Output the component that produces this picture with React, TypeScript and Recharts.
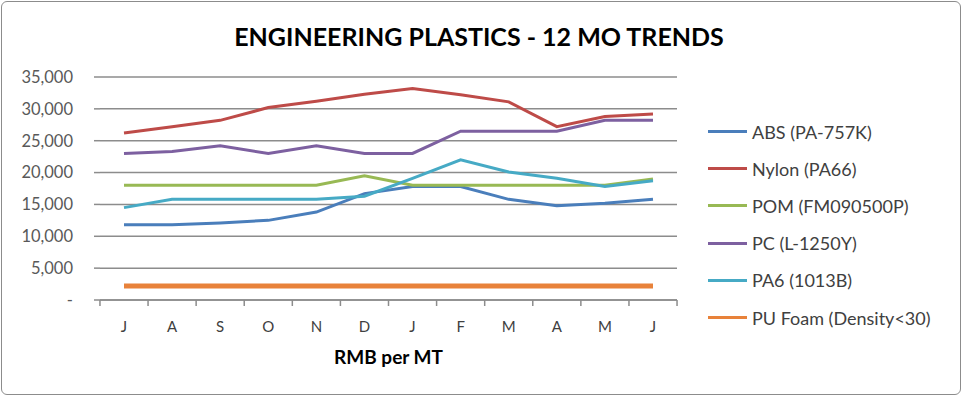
import { LineChart, Line, XAxis, YAxis, CartesianGrid, Legend } from "recharts";

const months = ["J", "A", "S", "O", "N", "D", "J", "F", "M", "A", "M", "J"];

const abs = [11800, 11800, 12100, 12500, 13800, 16700, 17800, 17800, 15800, 14800, 15200, 15800];
const nylon = [26200, 27200, 28200, 30200, 31200, 32300, 33200, 32200, 31100, 27200, 28800, 29200];
const pom = [18000, 18000, 18000, 18000, 18000, 19500, 18000, 18000, 18000, 18000, 18000, 19000];
const pc = [23000, 23300, 24200, 23000, 24200, 23000, 23000, 26500, 26500, 26500, 28200, 28200];
const pa6 = [14500, 15800, 15800, 15800, 15800, 16300, 19100, 22000, 20100, 19100, 17800, 18700];
const puFoam = [2200, 2200, 2200, 2200, 2200, 2200, 2200, 2200, 2200, 2200, 2200, 2200];

const yTicks = [0, 5000, 10000, 15000, 20000, 25000, 30000, 35000];

const series = [
  { key: "abs", name: "ABS (PA-757K)", color: "#4a7ebb", values: abs, width: 3 },
  { key: "nylon", name: "Nylon (PA66)", color: "#be4b48", values: nylon, width: 3 },
  { key: "pom", name: "POM (FM090500P)", color: "#98b954", values: pom, width: 3 },
  { key: "pc", name: "PC (L-1250Y)", color: "#7d60a0", values: pc, width: 3 },
  { key: "pa6", name: "PA6 (1013B)", color: "#46aac5", values: pa6, width: 3 },
  { key: "pu", name: "PU Foam (Density<30)", color: "#e8823a", values: puFoam, width: 5 },
];

const data = months.map((m, i) => {
  const row: any = { month: m };
  series.forEach((s) => (row[s.key] = s.values[i]));
  return row;
});

const font = "Lato, 'Open Sans', sans-serif";
const gridColor = "#8c8c8c";

// month label centred in its slot, tick marks on the slot boundaries (Excel style)
const MonthTick = (props: any) => {
  const { x, y, width, payload, index, visibleTicksCount } = props;
  const half = width / visibleTicksCount / 2;
  const last = index === visibleTicksCount - 1;
  return (
    <g>
      <line x1={x - half} x2={x - half} y1={y} y2={y + 6} stroke={gridColor} strokeWidth={1.5} />
      {last && <line x1={x + half} x2={x + half} y1={y} y2={y + 6} stroke={gridColor} strokeWidth={1.5} />}
      <text x={x} y={y + 32} textAnchor="middle" fontFamily={font} fontSize={15} fill="#404040">
        {payload.value}
      </text>
    </g>
  );
};

const LegendBox = () => (
  <div style={{ fontFamily: font, fontSize: 18, color: "#404040" }}>
    {series.map((s) => (
      <div key={s.key} style={{ display: "flex", alignItems: "center", height: 37.2 }}>
        <span style={{ display: "inline-block", width: 39, height: 3, background: s.color, marginRight: 5 }} />
        <span>{s.name}</span>
      </div>
    ))}
  </div>
);

export default function App() {
  return (
    <div style={{ position: "absolute", left: 0, top: 0, width: 964, height: 397, background: "#fff" }}>
      <div
        style={{
          position: "absolute",
          left: 1,
          top: 1,
          width: 958,
          height: 392,
          border: "1px solid #8c8c8c",
          borderRadius: 6,
        }}
      />
      <div
        style={{
          position: "absolute",
          left: 0,
          width: 958,
          top: 21,
          textAlign: "center",
          fontFamily: font,
          fontWeight: 700,
          fontSize: 25,
          color: "#000",
        }}
      >
        ENGINEERING PLASTICS - 12 MO TRENDS
      </div>
      <LineChart width={964} height={397} data={data} margin={{ top: 77, right: 287, bottom: 61, left: 0 }}>
        <CartesianGrid vertical={false} stroke={gridColor} strokeWidth={1.5} />
        <XAxis
          dataKey="month"
          height={36}
          padding={{ left: 24, right: 24 }}
          stroke={gridColor}
          strokeWidth={1.5}
          tickLine={false}
          tickSize={0}
          tickMargin={0}
          interval={0}
          tick={<MonthTick />}
        />
        <YAxis
          width={100}
          domain={[0, 35000]}
          ticks={yTicks}
          axisLine={false}
          tickLine={{ stroke: gridColor, strokeWidth: 1.5 }}
          tickSize={6}
          tickMargin={21}
          tickFormatter={(v: number) => (v === 0 ? "-" : v.toLocaleString("en-US"))}
          tick={{ fontFamily: font, fontSize: 16.5, fill: "#595959" }}
        />
        {series.map((s) => (
          <Line
            key={s.key}
            dataKey={s.key}
            name={s.name}
            stroke={s.color}
            strokeWidth={s.width}
            dot={false}
            isAnimationActive={false}
          />
        ))}
        <Legend
          layout="vertical"
          align="center"
          verticalAlign="middle"
          content={<LegendBox />}
          wrapperStyle={{ left: 708, top: 113, width: 250, height: 230 }}
        />
      </LineChart>
      <div
        style={{
          position: "absolute",
          left: 100,
          width: 577,
          top: 345,
          textAlign: "center",
          fontFamily: font,
          fontWeight: 700,
          fontSize: 19,
          color: "#000",
        }}
      >
        RMB per MT
      </div>
    </div>
  );
}
